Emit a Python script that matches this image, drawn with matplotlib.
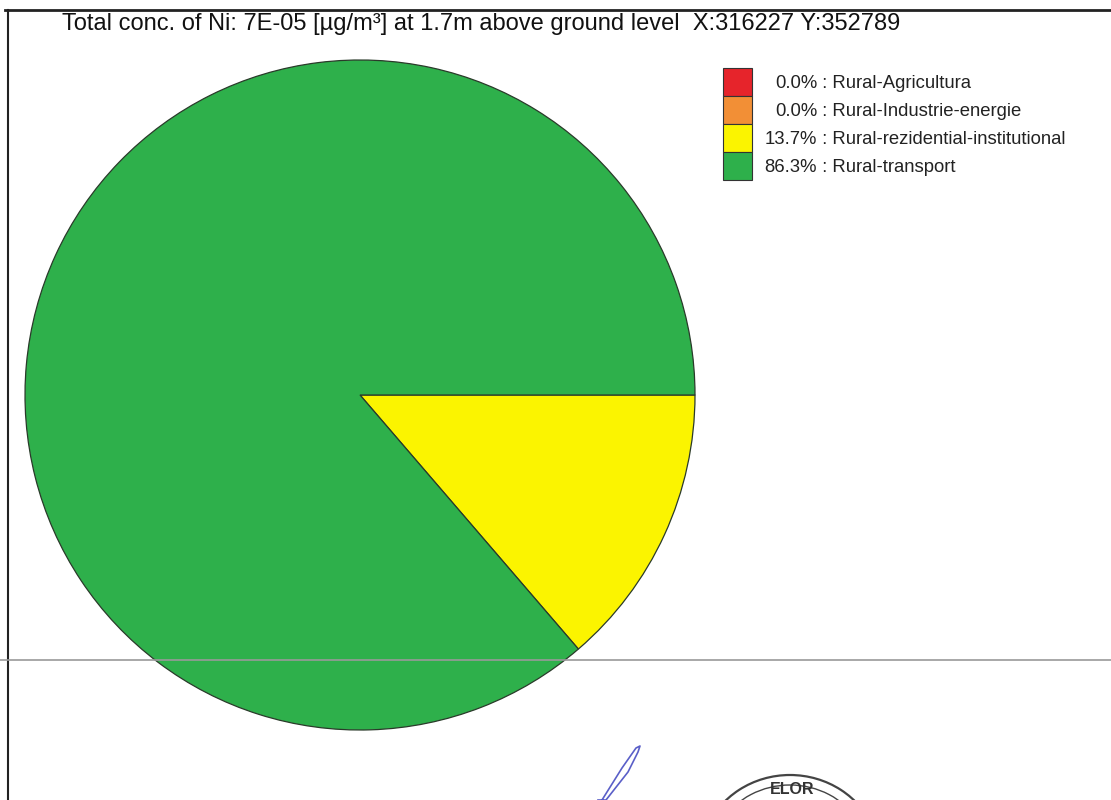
import matplotlib.pyplot as plt
from matplotlib.patches import Rectangle, Arc
from matplotlib.lines import Line2D

plt.rcParams['font.family'] = ['Liberation Sans Narrow', 'Liberation Sans', 'DejaVu Sans']

title = "Total conc. of Ni: 7E-05 [\u00b5g/m\u00b3] at 1.7m above ground level  X:316227 Y:352789"
sources = ["Rural-Agricultura", "Rural-Industrie-energie",
           "Rural-rezidential-institutional", "Rural-transport"]
shares = [0.0, 0.0, 13.7, 86.3]
colors = ["#e6242b", "#f28f36", "#fbf400", "#2eb04b"]

W, H = 1111, 800
fig = plt.figure(figsize=(W / 100, H / 100), dpi=100)
fig.patch.set_facecolor("white")


def fx(px):
    return px / W


def fy(py):
    return 1 - py / H


# pie
ax = fig.add_axes([fx(25), fy(730), fx(670), 670 / H])
ax.pie(shares, colors=colors, startangle=0, counterclock=False, radius=1,
       wedgeprops=dict(edgecolor="#2a3a2a", linewidth=0.9))
ax.set_aspect("equal")
ax.set_xlim(-1.0, 1.0)
ax.set_ylim(-1.0, 1.0)
ax.axis("off")

# title
fig.text(fx(62), fy(24), title, fontsize=17, va="center", ha="left", color="#111111")

# legend swatches and labels
sw_x, sw_top, sw_w, sw_h = 723, 68, 29, 28
for i, (name, val, col) in enumerate(zip(sources, shares, colors)):
    y0 = sw_top + i * sw_h
    fig.patches.append(Rectangle((fx(sw_x), fy(y0 + sw_h)), fx(sw_w), sw_h / H,
                                 transform=fig.transFigure, facecolor=col,
                                 edgecolor="#333333", linewidth=0.8))
    yc = fy(y0 + sw_h / 2 + 1)
    fig.text(fx(817), yc, f"{val:.1f}%", fontsize=13.3, ha="right", va="center", color="#222222")
    fig.text(fx(817), yc, f" : {name}", fontsize=13.3, ha="left", va="center", color="#222222")

# page frame lines from the scanned sheet
fig.add_artist(Line2D([fx(5), 1], [fy(10), fy(10)], transform=fig.transFigure,
                      color="#222222", linewidth=2.0))
fig.add_artist(Line2D([fx(8), fx(8)], [fy(10), 0], transform=fig.transFigure,
                      color="#222222", linewidth=1.5))
fig.add_artist(Line2D([0, 1], [fy(660), fy(660)], transform=fig.transFigure,
                      color="#9a9a9a", linewidth=1.2))

# stamp and signature remnants at the bottom
stamp_ax = fig.add_axes([0, 0, 1, 1], zorder=-1)
stamp_ax.set_xlim(0, W)
stamp_ax.set_ylim(H, 0)
stamp_ax.axis("off")
stamp_ax.add_patch(Arc((790, 860), 180, 170, theta1=200, theta2=340,
                       color="#444444", linewidth=1.6))
stamp_ax.add_patch(Arc((790, 860), 160, 150, theta1=210, theta2=330,
                       color="#444444", linewidth=1.0))
stamp_ax.text(792, 789, "ELOR", fontsize=11.5, ha="center", va="center",
              color="#333333", fontweight="bold")
stamp_ax.plot([602, 622, 636, 640, 638, 628, 606, 598],
              [800, 768, 748, 746, 752, 772, 800, 800],
              color="#5a5fc8", linewidth=1.2)

fig.savefig("out.png", dpi=100)
